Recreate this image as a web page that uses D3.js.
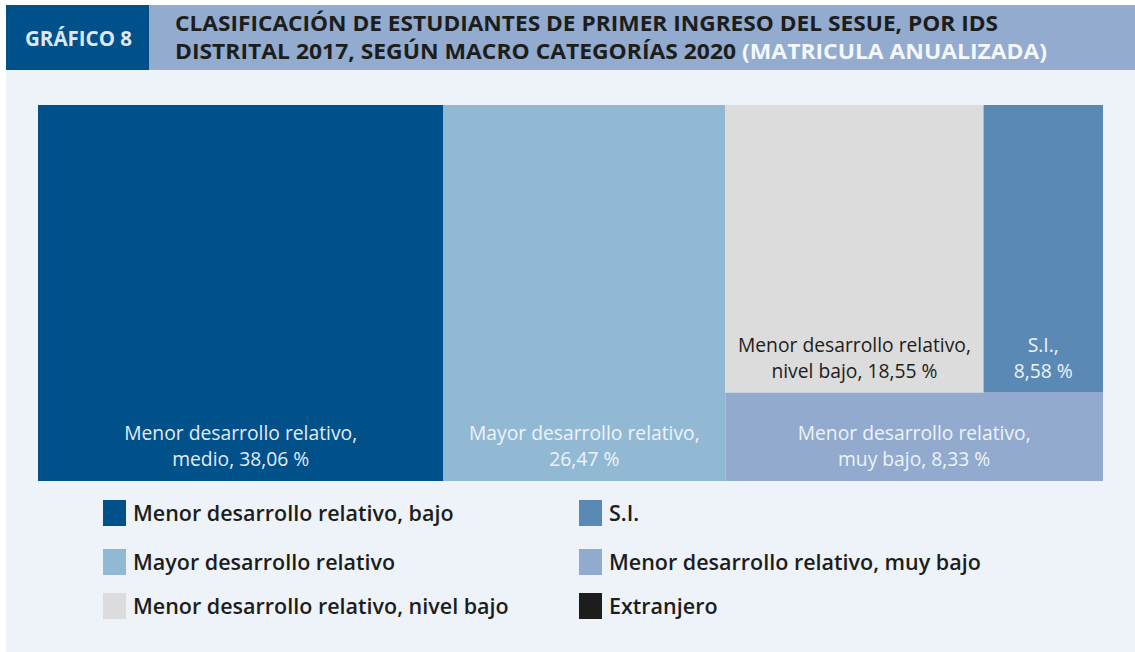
<!DOCTYPE html>
<html>
<head>
<meta charset="utf-8">
<script src="https://cdn.jsdelivr.net/npm/d3@7"></script>
<style>
  body { margin: 0; background: #fff; }
  svg { display: block; font-family: "Open Sans", sans-serif; }
</style>
</head>
<body>
<div id="chart"></div>
<script>
// data
const categories = ["Menor desarrollo relativo, bajo", "Mayor desarrollo relativo", "Menor desarrollo relativo, nivel bajo", "S.I.", "Menor desarrollo relativo, muy bajo", "Extranjero"];
const values = [38.06, 26.47, 18.55, 8.58, 8.33, 0];
const cellLabels = [
  ["Menor desarrollo relativo,", "medio, 38,06 %"],
  ["Mayor desarrollo relativo,", "26,47 %"],
  ["Menor desarrollo relativo,", "nivel bajo, 18,55 %"],
  ["S.I.,", "8,58 %"],
  ["Menor desarrollo relativo,", "muy bajo, 8,33 %"],
  []
];
const colors = ["#00508a", "#92b9d4", "#dcdcdc", "#5b89b5", "#91aacd", "#1d1d1b"];
const labelColors = ["#e4ebf4", "#eef3fa", "#1d1d1b", "#eef3fa", "#eef3fa", "#fff"];
// legend order: left column then right column
const legendOrder = [0, 1, 2, 3, 4, 5];

const W = 1135, H = 652;
const svg = d3.select("#chart").append("svg").attr("width", W).attr("height", H);

// header
svg.append("rect").attr("x", 6).attr("y", 70).attr("width", W - 6).attr("height", H - 70).attr("fill", "#eef3fa");
svg.append("rect").attr("x", 6).attr("y", 5).attr("width", 143).attr("height", 65).attr("fill", "#00508a");
svg.append("rect").attr("x", 149).attr("y", 5).attr("width", W - 149).attr("height", 65).attr("fill", "#92abcf");
svg.append("text").attr("x", 25).attr("y", 46).attr("fill", "#dfe7f1")
  .attr("font-size", 21).attr("font-weight", 700)
  .attr("textLength", 107).attr("lengthAdjust", "spacingAndGlyphs").text("GRÁFICO 8");

const t1 = svg.append("text").attr("x", 175).attr("y", 31).attr("fill", "#1d1d1b")
  .attr("font-size", 21.5).attr("font-weight", 700)
  .text("CLASIFICACIÓN DE ESTUDIANTES DE PRIMER INGRESO DEL SESUE, POR IDS");
const t2 = svg.append("text").attr("x", 175).attr("y", 59).attr("fill", "#1d1d1b")
  .attr("font-size", 21.5).attr("font-weight", 700);
t2.append("tspan").text("DISTRITAL 2017, SEGÚN MACRO CATEGORÍAS 2020 ");
t2.append("tspan").attr("fill", "#f4f7fb").text("(MATRICULA ANUALIZADA)");
// squeeze title lines to the width seen in the reference
t1.attr("textLength", 823).attr("lengthAdjust", "spacingAndGlyphs");
t2.attr("textLength", 872).attr("lengthAdjust", "spacingAndGlyphs");

// treemap: two big slices, then a block with a row of two on top and one below
const tree = {
  children: [
    { i: 0, value: values[0] },
    { i: 1, value: values[1] },
    { children: [
      { children: [{ i: 2, value: values[2] }, { i: 3, value: values[3] }] },
      { children: [{ i: 4, value: values[4] }, { i: 5, value: values[5] }] }
    ] }
  ]
};

const root = d3.hierarchy(tree).sum(d => d.value || 0);
d3.treemap()
  .size([1065, 376])
  .tile((node, x0, y0, x1, y1) => (node.depth % 2 === 0 ? d3.treemapDice : d3.treemapSlice)(node, x0, y0, x1, y1))(root);

const g = svg.append("g").attr("transform", "translate(38,105)");
const leaves = g.selectAll("g.cell").data(root.leaves()).join("g").attr("class", "cell");

leaves.append("rect")
  .attr("x", d => d.x0).attr("y", d => d.y0)
  .attr("width", d => d.x1 - d.x0).attr("height", d => d.y1 - d.y0)
  .attr("fill", d => colors[d.data.i]);

leaves.each(function(d) {
  const lines = cellLabels[d.data.i];
  const cx = (d.x0 + d.x1) / 2;
  const txt = d3.select(this).append("text")
    .attr("text-anchor", "middle").attr("font-size", 19.3)
    .attr("fill", labelColors[d.data.i]);
  lines.forEach((s, k) => {
    txt.append("tspan").attr("x", cx)
      .attr("y", d.y1 - 15 - (lines.length - 1 - k) * 26)
      .text(s);
  });
});

// legend
const legend = svg.append("g");
const legItems = legend.selectAll("g").data(legendOrder).join("g")
  .attr("transform", (d, k) => `translate(${k < 3 ? 103 : 579},${[500, 549, 593][k % 3]})`);
legItems.append("rect").attr("width", 23).attr("height", 26).attr("fill", d => colors[d]);
legItems.append("text").attr("x", 30).attr("y", 21)
  .attr("font-size", 21.5).attr("font-weight", 600).attr("fill", "#1d1d1b")
  .text(d => categories[d]);
</script>
</body>
</html>
